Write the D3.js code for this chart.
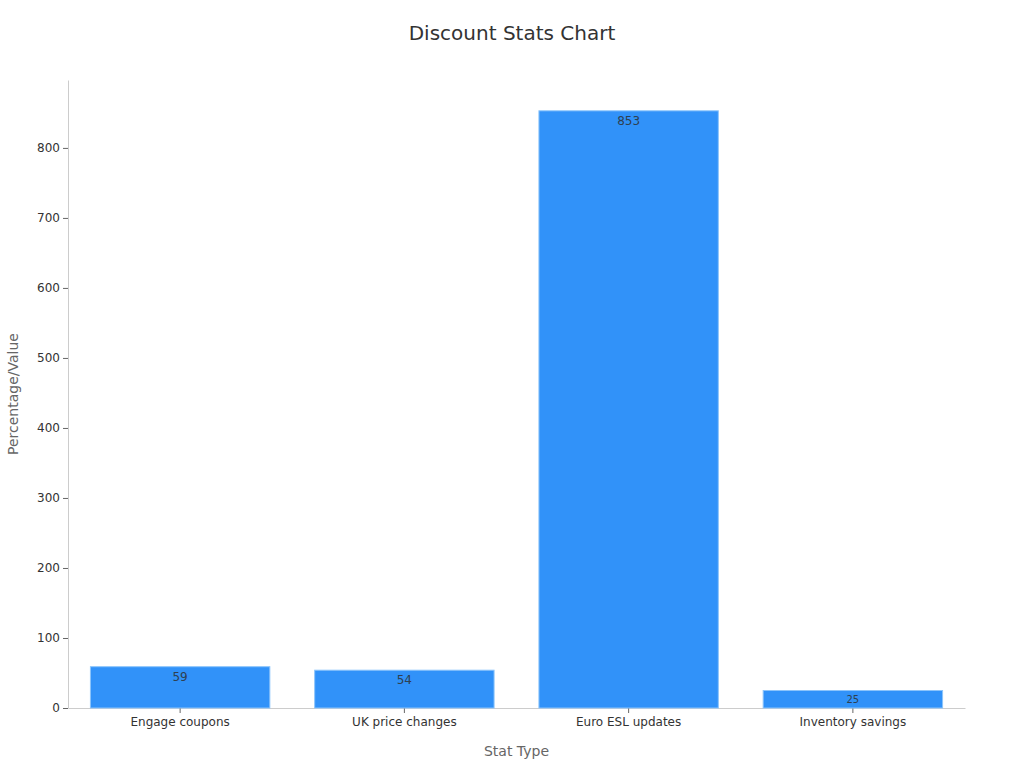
<!DOCTYPE html>
<html>
<head>
<meta charset="utf-8">
<script src="https://cdn.jsdelivr.net/npm/d3@7"></script>
<style>
  body { margin: 0; background: #fff; }
  svg, svg text { font-family: "DejaVu Sans", sans-serif; }
</style>
</head>
<body>
<svg id="chart" width="1024" height="768"></svg>
<script>
const categories = ["Engage coupons", "UK price changes", "Euro ESL updates", "Inventory savings"];
const values = [59, 54, 853, 25];
const yTicks = [0, 100, 200, 300, 400, 500, 600, 700, 800];

const svg = d3.select("#chart");
const margin = { top: 80, right: 59, bottom: 60, left: 68 };
const W = 1024, H = 768;
const innerW = W - margin.left - margin.right;
const innerH = H - margin.top - margin.bottom;

const g = svg.append("g").attr("transform", `translate(${margin.left},${margin.top})`);

const x = d3.scaleBand().domain(categories).range([0, innerW])
  .paddingInner(0.2).paddingOuter(0.1);
const y = d3.scaleLinear().domain([0, 897]).range([innerH, 0]);

// title
svg.append("text")
  .attr("x", W / 2).attr("y", 40)
  .attr("text-anchor", "middle")
  .style("font-size", "20px")
  .style("fill", "#333")
  .text("Discount Stats Chart");

// y axis
const yAxis = g.append("g")
  .call(d3.axisLeft(y).tickValues(yTicks).tickSize(5).tickPadding(3).tickSizeOuter(0));
yAxis.attr("font-family", null);
yAxis.select(".domain").attr("stroke", "#ccc");
yAxis.selectAll(".tick line").attr("stroke", "#666");
yAxis.selectAll(".tick text").style("font-size", "12px").style("fill", "#333");

// x axis
const xAxis = g.append("g")
  .attr("transform", `translate(0,${innerH})`)
  .call(d3.axisBottom(x).tickSize(5).tickPadding(4).tickSizeOuter(0));
xAxis.attr("font-family", null);
xAxis.select(".domain").attr("stroke", "#ccc");
xAxis.selectAll(".tick line").attr("stroke", "#666");
xAxis.selectAll(".tick text").style("font-size", "12px").style("fill", "#333");

// bars
g.selectAll("rect.bar")
  .data(values)
  .join("rect")
  .attr("class", "bar")
  .attr("x", (d, i) => x(categories[i]))
  .attr("y", d => y(d))
  .attr("width", x.bandwidth())
  .attr("height", d => innerH - y(d))
  .attr("fill", "#3192f9")
  .attr("stroke", "#8cc4fb")
  .attr("stroke-width", 1);

// value labels
g.selectAll("text.val")
  .data(values)
  .join("text")
  .attr("class", "val")
  .attr("x", (d, i) => x(categories[i]) + x.bandwidth() / 2)
  .attr("y", d => y(d) + (d < 30 ? 13 : 14))
  .attr("text-anchor", "middle")
  .style("font-size", d => d < 30 ? "10px" : "12px")
  .style("fill", "#2f4050")
  .text(d => d);

// axis titles
svg.append("text")
  .attr("x", margin.left + innerW / 2).attr("y", 756)
  .attr("text-anchor", "middle")
  .style("font-size", "14px")
  .style("fill", "#666")
  .text("Stat Type");

svg.append("text")
  .attr("transform", `translate(18,${margin.top + innerH / 2}) rotate(-90)`)
  .attr("text-anchor", "middle")
  .style("font-size", "14px")
  .style("fill", "#666")
  .text("Percentage/Value");
</script>
</body>
</html>
